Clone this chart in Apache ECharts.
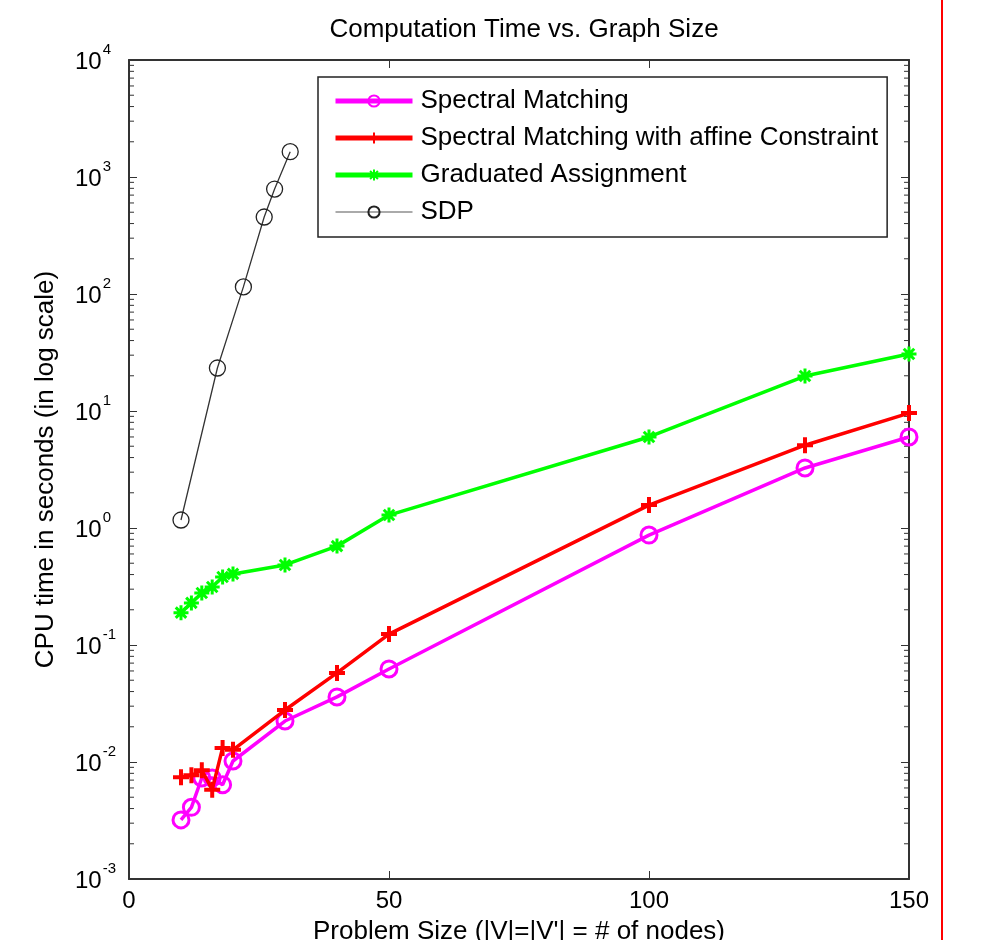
<!DOCTYPE html>
<html>
<head>
<meta charset="utf-8">
<script src="https://cdn.jsdelivr.net/npm/echarts@6/dist/echarts.min.js"></script>
<style>
  html, body { margin: 0; padding: 0; background: #fff; }
  #chart { width: 998px; height: 940px; }
</style>
</head>
<body>
<div id="chart"></div>
<script>
// problem sizes (number of nodes)
const sizes = [10, 12, 14, 16, 18, 20, 30, 40, 50, 100, 130, 150]
const sdpSizes = [10, 17, 22, 26, 28, 31]

// CPU time in seconds
const spectral = [0.0032, 0.0041, 0.0073, 0.0073, 0.0064, 0.0102, 0.0224, 0.036, 0.0624, 0.87, 3.26, 6.0]
const spectralAffine = [0.0074, 0.0077, 0.0085, 0.0058, 0.0132, 0.0127, 0.0278, 0.0577, 0.124, 1.57, 5.1, 9.6]
const graduated = [0.189, 0.229, 0.278, 0.313, 0.381, 0.405, 0.483, 0.70, 1.29, 6.0, 19.9, 30.7]
const sdp = [1.17, 23.3, 115, 455, 789, 1645]

const seriesNames = ['Spectral Matching', 'Spectral Matching with affine Constraint', 'Graduated Assignment', 'SDP']

// minor ticks of the log axis (2..9 in every decade)
const minorTicks = []
for (let e = -3; e < 4; e++) {
  for (let k = 2; k < 10; k++) minorTicks.push([0, k * Math.pow(10, e)])
}

const FONT = '"Liberation Sans", Arial, sans-serif'
const FRAME = '#333333'

const chart = echarts.init(document.getElementById('chart'))

function pairs(xs, ys) {
  return xs.map((x, i) => [x, ys[i]])
}

const frameAxis = {
  axisLine: { show: true, onZero: false, lineStyle: { color: FRAME, width: 2 } },
  axisTick: { show: true, inside: true, length: 8, lineStyle: { color: FRAME, width: 1 } },
  splitLine: { show: false }
}

const option = {
  animation: false,
  backgroundColor: '#fff',
  title: {
    text: 'Computation Time vs. Graph Size',
    left: 519,
    top: 12,
    textAlign: 'center',
    textStyle: { fontFamily: FONT, fontSize: 26, fontWeight: 'normal', color: '#000' }
  },
  legend: {
    data: [
      { name: seriesNames[0], lineStyle: { width: 5 } },
      { name: seriesNames[1], lineStyle: { width: 5 } },
      { name: seriesNames[2], lineStyle: { width: 5 } },
      { name: seriesNames[3], lineStyle: { width: 2, color: '#aaaaaa' } }
    ],
    orient: 'vertical',
    left: 318,
    top: 77,
    padding: [11, 9, 12, 15],
    itemGap: 11,
    itemWidth: 77,
    itemHeight: 14,
    backgroundColor: '#fff',
    borderColor: '#222',
    borderWidth: 1.5,
    borderRadius: 0,
    textStyle: { fontFamily: FONT, fontSize: 26, color: '#000', lineHeight: 26, padding: [0, 0, 0, 3] }
  },
  grid: { left: 129, right: 89, top: 60, bottom: 61, containLabel: false, outerBoundsMode: 'none' },
  xAxis: [
    {
      type: 'value',
      min: 0,
      max: 150,
      interval: 50,
      position: 'bottom',
      name: "Problem Size (|V|=|V'| = # of nodes)",
      nameLocation: 'middle',
      nameGap: 40,
      nameTextStyle: { fontFamily: FONT, fontSize: 26, color: '#000' },
      axisLabel: { fontFamily: FONT, fontSize: 24, color: '#000', margin: 10 },
      ...frameAxis
    },
    {
      type: 'value',
      min: 0,
      max: 150,
      interval: 50,
      position: 'top',
      axisLabel: { show: false },
      ...frameAxis
    }
  ],
  yAxis: [
    {
      type: 'log',
      logBase: 10,
      min: 0.001,
      max: 10000,
      position: 'left',
      name: 'CPU time in seconds (in log scale)',
      nameLocation: 'middle',
      nameGap: 70,
      nameTextStyle: { fontFamily: FONT, fontSize: 26, color: '#000' },
      axisLabel: {
        margin: 54,
        align: 'left',
        formatter: v => '{b|10}{e|' + Math.round(Math.log10(v)) + '}',
        rich: {
          b: { fontFamily: FONT, fontSize: 24, color: '#000', padding: [4, 0, 0, 0] },
          e: { fontFamily: FONT, fontSize: 15, color: '#000', padding: [0, 0, 20, 1] }
        }
      },
      ...frameAxis
    },
    {
      type: 'log',
      logBase: 10,
      min: 0.001,
      max: 10000,
      position: 'right',
      axisLabel: { show: false },
      ...frameAxis
    }
  ],
  series: [
    {
      name: seriesNames[0],
      type: 'line',
      data: pairs(sizes, spectral),
      color: '#ff00ff',
      lineStyle: { color: '#ff00ff', width: 3.5 },
      symbol: 'circle',
      symbolSize: 16,
      itemStyle: { color: 'rgba(0,0,0,0)', borderColor: '#ff00ff', borderWidth: 3 },
      z: 3
    },
    {
      name: seriesNames[1],
      type: 'line',
      data: pairs(sizes, spectralAffine),
      color: '#ff0000',
      lineStyle: { color: '#ff0000', width: 3.5 },
      symbol: 'path://M0,-1L0,1M-1,0L1,0',
      symbolSize: 16,
      itemStyle: { color: 'rgba(0,0,0,0)', borderColor: '#ff0000', borderWidth: 4 },
      z: 4
    },
    {
      name: seriesNames[2],
      type: 'line',
      data: pairs(sizes, graduated),
      color: '#00ff00',
      lineStyle: { color: '#00ff00', width: 3.5 },
      symbol: 'path://M0,-1L0,1M-1,0L1,0M-0.7,-0.7L0.7,0.7M-0.7,0.7L0.7,-0.7',
      symbolSize: 15,
      itemStyle: { color: 'rgba(0,0,0,0)', borderColor: '#00ff00', borderWidth: 3 },
      z: 5
    },
    {
      name: seriesNames[3],
      type: 'line',
      data: pairs(sdpSizes, sdp),
      color: '#333333',
      lineStyle: { color: '#333333', width: 1.3 },
      symbol: 'circle',
      symbolSize: 16,
      itemStyle: { color: 'rgba(0,0,0,0)', borderColor: '#222222', borderWidth: 1.3 },
      z: 6
    },
    {
      type: 'custom',
      silent: true,
      data: minorTicks,
      z: 2,
      renderItem: (params, api) => {
        const y = api.coord([0, api.value(1)])[1]
        const cs = params.coordSys
        const style = { stroke: FRAME, lineWidth: 1 }
        return {
          type: 'group',
          children: [
            { type: 'line', shape: { x1: cs.x, y1: y, x2: cs.x + 5, y2: y }, style },
            { type: 'line', shape: { x1: cs.x + cs.width - 5, y1: y, x2: cs.x + cs.width, y2: y }, style }
          ]
        }
      }
    }
  ],
  graphic: [
    {
      type: 'line',
      shape: { x1: 942, y1: 0, x2: 942, y2: 940 },
      style: { stroke: '#ff0000', lineWidth: 2 }
    }
  ]
}

chart.setOption(option)
</script>
</body>
</html>
